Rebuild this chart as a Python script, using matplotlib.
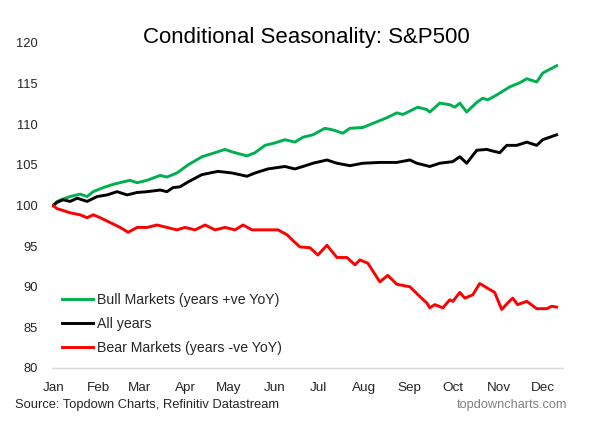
import matplotlib
matplotlib.use("Agg")
import matplotlib.pyplot as plt

plt.rcParams["font.family"] = ["Liberation Sans", "DejaVu Sans"]

# --- data (day of year, index level, start = 100) ---------------
bull_days = [0, 2.7, 6.8, 11.6, 18.4, 23.2, 27.3, 34.1, 40.9, 47.7, 52.5, 57.3,
             64.1, 73.0, 77.7, 84.5, 92.1, 101.6, 110.5, 117.3, 122.1, 132.3,
             137.8, 144.6, 151.4, 158.2, 165.0, 170.5, 177.3, 185.5, 191.0,
             197.8, 202.6, 211.4, 221.0, 227.8, 234.6, 238.7, 248.9, 255.1,
             257.1, 263.9, 270.8, 274.2, 277.6, 282.3, 289.2, 293.3, 296.7,
             302.8, 311.7, 318.5, 323.3, 330.1, 334.2, 343.7]
bull_vals = [100.0, 100.5, 100.8, 101.1, 101.4, 101.1, 101.7, 102.2, 102.6,
             102.9, 103.1, 102.8, 103.1, 103.7, 103.5, 104.0, 105.0, 106.0,
             106.5, 106.9, 106.6, 106.1, 106.5, 107.4, 107.7, 108.1, 107.8,
             108.4, 108.7, 109.5, 109.3, 108.9, 109.5, 109.6, 110.3, 110.8,
             111.4, 111.2, 112.1, 111.8, 111.5, 112.6, 112.4, 112.1, 112.6,
             111.5, 112.7, 113.2, 113.0, 113.6, 114.6, 115.1, 115.6, 115.2,
             116.3, 117.2]

all_days = [0, 2.7, 6.8, 11.6, 16.4, 23.2, 30.0, 36.8, 43.6, 50.5, 57.3, 64.1,
            73.0, 77.7, 81.8, 86.6, 92.1, 101.6, 112.5, 122.1, 132.3, 137.8,
            146.6, 158.2, 165.0, 170.5, 177.3, 186.9, 193.7, 202.6, 211.4,
            223.0, 234.6, 243.5, 248.2, 257.1, 263.9, 272.8, 277.6, 282.3,
            289.2, 296.0, 300.1, 304.9, 309.6, 316.4, 323.3, 330.1, 334.2, 343.7]
all_vals = [100.0, 100.4, 100.7, 100.5, 100.9, 100.5, 101.1, 101.3, 101.7,
            101.3, 101.6, 101.7, 101.9, 101.7, 102.2, 102.3, 102.9, 103.8,
            104.2, 104.0, 103.6, 104.0, 104.5, 104.8, 104.5, 104.8, 105.2,
            105.6, 105.2, 104.9, 105.2, 105.3, 105.3, 105.6, 105.2, 104.8,
            105.2, 105.4, 106.0, 105.2, 106.8, 106.9, 106.7, 106.5, 107.4,
            107.4, 107.8, 107.4, 108.1, 108.7]

bear_days = [0, 2.7, 4.8, 11.6, 18.4, 23.2, 27.3, 32.1, 38.9, 45.7, 51.2, 57.3,
             64.1, 70.9, 77.7, 84.5, 90.0, 96.8, 103.7, 110.5, 117.3, 124.1,
             129.6, 135.7, 144.6, 153.5, 159.6, 163.0, 168.4, 175.3, 180.7,
             186.9, 193.7, 200.5, 206.0, 209.4, 214.8, 223.0, 228.4, 234.6,
             243.5, 250.3, 255.1, 257.1, 260.5, 266.0, 270.8, 272.8, 277.6,
             281.0, 286.4, 291.2, 296.7, 301.4, 306.2, 310.3, 313.7, 317.1,
             323.3, 330.1, 336.9, 340.3, 343.7]
bear_vals = [100.0, 99.6, 99.5, 99.1, 98.85, 98.5, 98.85, 98.5, 97.9, 97.3,
             96.7, 97.3, 97.3, 97.6, 97.3, 97.0, 97.3, 97.0, 97.6, 97.0, 97.3,
             97.0, 97.6, 97.0, 97.0, 97.0, 96.4, 95.8, 94.9, 94.8, 93.9, 95.1,
             93.6, 93.6, 92.7, 93.3, 92.9, 90.6, 91.4, 90.3, 90.0, 88.8, 88.0,
             87.4, 87.8, 87.4, 88.4, 88.2, 89.3, 88.6, 89.0, 90.4, 89.8, 89.3,
             87.2, 88.0, 88.6, 87.8, 88.2, 87.3, 87.3, 87.6, 87.5]

month_starts = [0, 31, 59, 90, 120, 151, 181, 212, 243, 273, 304, 334]
month_labels = ["Jan", "Feb", "Mar", "Apr", "May", "Jun",
                "Jul", "Aug", "Sep", "Oct", "Nov", "Dec"]

# --- figure -----------------------------------------------------
fig = plt.figure(figsize=(5.99, 4.21), dpi=100)
ax = fig.add_axes([0.0868, 0.1259, 0.853, 0.772])

ax.plot(bull_days, bull_vals, color="#00B050", lw=2.1,
        label="Bull Markets (years +ve YoY)")
ax.plot(all_days, all_vals, color="black", lw=2.1, label="All years")
ax.plot(bear_days, bear_vals, color="#FF0000", lw=2.1,
        label="Bear Markets (years -ve YoY)")

ax.set_xlim(-0.8, 348)
ax.set_ylim(80, 120)
ax.set_yticks(range(80, 121, 5))
ax.set_xticks(month_starts)
ax.set_xticklabels(month_labels)
ax.tick_params(axis="both", length=0, colors="#262626")
ax.tick_params(axis="y", pad=10, labelsize=9.3)
ax.tick_params(axis="x", pad=10, labelsize=9.7)
for s in ["top", "right", "left"]:
    ax.spines[s].set_visible(False)
ax.spines["bottom"].set_color("#D9D9D9")
ax.spines["bottom"].set_linewidth(1)

leg = ax.legend(loc="center left", bbox_to_anchor=(62 / 599, 1 - 324 / 421),
                bbox_transform=fig.transFigure, frameon=False, fontsize=10.2,
                handlelength=2.2, handletextpad=0.3, labelspacing=0.72,
                borderpad=0, borderaxespad=0)
for t in leg.get_texts():
    t.set_color("#262626")

fig.text(306 / 599, 1 - 37 / 421, "Conditional Seasonality: S&P500",
         ha="center", va="center", fontsize=16, color="black")
fig.text(15 / 599, 1 - 405 / 421, "Source: Topdown Charts, Refinitiv Datastream",
         ha="left", va="center", fontsize=9.3, color="#262626")
fig.text(567 / 599, 1 - 405 / 421, "topdowncharts.com",
         ha="right", va="center", fontsize=9.2, color="#808080")

fig.savefig("out.png", dpi=100)
